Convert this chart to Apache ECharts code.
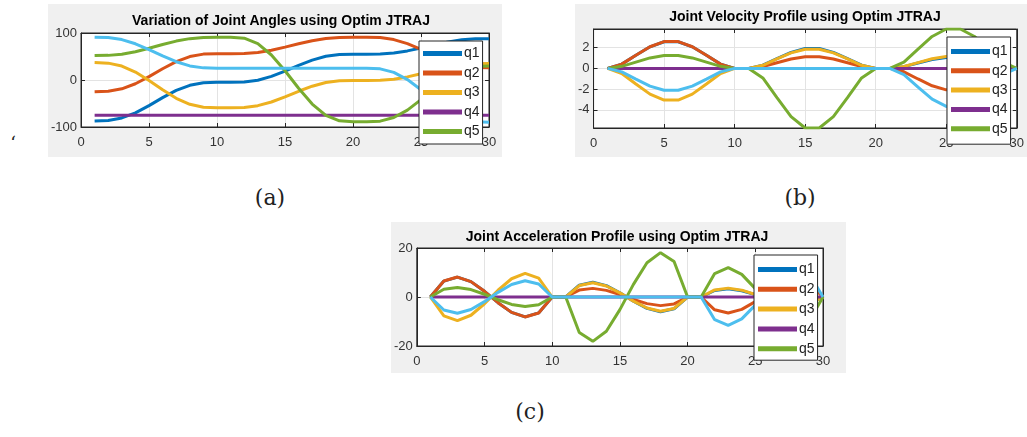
<!DOCTYPE html>
<html>
<head>
<meta charset="utf-8">
<script src="https://cdn.jsdelivr.net/npm/echarts@6/dist/echarts.min.js"></script>
<style>
body{margin:0;background:#fff;width:1027px;height:437px;position:relative;overflow:hidden;}
.panel{position:absolute;background:#f0f0f0;}
.cap{position:absolute;font-family:'DejaVu Serif','Liberation Serif',serif;font-size:22px;color:#222;transform:translate(-50%,-50%);white-space:nowrap;}
</style>
</head>
<body>
<div id="ca" class="panel" style="left:48px;top:4px;width:454px;height:153px"></div>
<div id="cb" class="panel" style="left:575px;top:4px;width:452px;height:153px"></div>
<div id="cc" class="panel" style="left:391px;top:222px;width:455px;height:151px"></div>
<div class="cap" style="left:270px;top:197px">(a)</div>
<div class="cap" style="left:800px;top:197px">(b)</div>
<div class="cap" style="left:530px;top:411px">(c)</div>
<div class="cap" style="left:13px;top:142px;font-size:18px">‘</div>
<script>
var xs = [1, 2, 3, 4, 5, 6, 7, 8, 9, 10, 11, 12, 13, 14, 15, 16, 17, 18, 19, 20, 21, 22, 23, 24, 25, 26, 27, 28, 29, 30];

// joint angles (deg)
var angQ1 = [-87, -86.1, -80.7, -69.8, -54.5, -37.5, -22.2, -11.3, -5.9, -5, -5, -4.3, -0.4, 7.6, 18.8, 31.2, 42.4, 50.4, 54.3, 55, 55, 55.4, 57.5, 61.9, 68.1, 74.9, 81.1, 85.5, 87.6, 88];
var angQ2 = [-25, -24.1, -18.8, -8.0, 7.1, 23.9, 39.0, 49.8, 55.1, 56, 56, 56.4, 58.7, 63.3, 69.9, 77.1, 83.6, 88.3, 90.6, 91, 91, 90.3, 86.0, 77.4, 65.2, 51.8, 39.6, 31.0, 26.7, 26];
var angQ3 = [37, 35.9, 29.7, 16.9, -1.1, -20.9, -38.9, -51.7, -57.9, -59, -59, -58.3, -54.6, -46.8, -36.0, -24.0, -13.2, -5.4, -1.7, -1, -1, -0.6, 1.8, 6.6, 13.3, 20.7, 27.4, 32.3, 34.6, 35];
var angQ4 = [-75, -75, -75, -75, -75, -75, -75, -75, -75, -75, -75, -75, -75, -75, -75, -75, -75, -75, -75, -75, -75, -75, -75, -75, -75, -75, -75, -75, -75, -75];
var angQ5 = [52, 52.4, 55.0, 60.2, 67.5, 75.5, 82.8, 88.0, 90.6, 91, 91, 88.9, 77.3, 53.2, 19.6, -17.6, -51.2, -75.3, -86.9, -89, -89, -87.6, -79.9, -64.0, -41.8, -17.2, 5.0, 20.9, 28.6, 30];
var angQ6 = [91, 90.2, 86.0, 77.1, 64.8, 51.2, 38.9, 30.0, 25.8, 25, 25, 25, 25, 25, 25, 25, 25, 25, 25, 25, 25, 23.7, 16.2, 0.9, -20.6, -44.4, -65.9, -81.2, -88.7, -90];

// joint velocities
var velQ1 = [0, 0.41, 1.26, 2.08, 2.57, 2.57, 2.08, 1.26, 0.41, 0, 0, 0.31, 0.94, 1.55, 1.92, 1.92, 1.55, 0.94, 0.31, 0, 0, 0.17, 0.52, 0.85, 1.05, 1.05, 0.85, 0.52, 0.17, 0];
var velQ2 = [0, 0.41, 1.27, 2.09, 2.59, 2.59, 2.09, 1.27, 0.41, 0, 0, 0.18, 0.55, 0.91, 1.12, 1.12, 0.91, 0.55, 0.18, 0, 0, -0.33, -1.02, -1.68, -2.07, -2.07, -1.68, -1.02, -0.33, 0];
var velQ3 = [0, -0.49, -1.50, -2.48, -3.06, -3.06, -2.48, -1.50, -0.49, 0, 0, 0.30, 0.91, 1.50, 1.85, 1.85, 1.50, 0.91, 0.30, 0, 0, 0.18, 0.56, 0.93, 1.15, 1.15, 0.93, 0.56, 0.18, 0];
var velQ4 = [0, 0, 0, 0, 0, 0, 0, 0, 0, 0, 0, 0, 0, 0, 0, 0, 0, 0, 0, 0, 0, 0, 0, 0, 0, 0, 0, 0, 0, 0];
var velQ5 = [0, 0.20, 0.61, 1.01, 1.24, 1.24, 1.01, 0.61, 0.20, 0, 0, -0.92, -2.82, -4.65, -5.75, -5.75, -4.65, -2.82, -0.92, 0, 0, 0.61, 1.86, 3.08, 3.80, 3.80, 3.08, 1.86, 0.61, 0];
var velQ6 = [0, -0.34, -1.03, -1.71, -2.11, -2.11, -1.71, -1.03, -0.34, 0, 0, 0, 0, 0, 0, 0, 0, 0, 0, 0, 0, -0.59, -1.80, -2.97, -3.67, -3.67, -2.97, -1.80, -0.59, 0];

// joint accelerations
var accQ1 = [0, 6.50, 8.12, 6.27, 2.32, -2.32, -6.27, -8.12, -6.50, 0, 0, 4.83, 6.03, 4.65, 1.72, -1.72, -4.65, -6.03, -4.83, 0, 0, 2.65, 3.32, 2.56, 0.95, -0.95, -2.56, -3.32, -2.65, 0];
var accQ2 = [0, 6.52, 8.14, 6.28, 2.33, -2.33, -6.28, -8.14, -6.52, 0, 0, 2.82, 3.52, 2.71, 1.01, -1.01, -2.71, -3.52, -2.82, 0, 0, -5.23, -6.54, -5.04, -1.87, 1.87, 5.04, 6.54, 5.23, 0];
var accQ3 = [0, -7.72, -9.65, -7.45, -2.76, 2.76, 7.45, 9.65, 7.72, 0, 0, 4.67, 5.83, 4.50, 1.67, -1.67, -4.50, -5.83, -4.67, 0, 0, 2.90, 3.62, 2.79, 1.03, -1.03, -2.79, -3.62, -2.90, 0];
var accQ4 = [0, 0, 0, 0, 0, 0, 0, 0, 0, 0, 0, 0, 0, 0, 0, 0, 0, 0, 0, 0, 0, 0, 0, 0, 0, 0, 0, 0, 0, 0];
var accQ5 = [0, 3.14, 3.92, 3.03, 1.12, -1.12, -3.03, -3.92, -3.14, 0, 0, -14.48, -18.10, -13.96, -5.17, 5.17, 13.96, 18.10, 14.48, 0, 0, 9.57, 11.97, 9.23, 3.42, -3.42, -9.23, -11.97, -9.57, 0];
var accQ6 = [0, -5.31, -6.64, -5.12, -1.90, 1.90, 5.12, 6.64, 5.31, 0, 0, 0, 0, 0, 0, 0, 0, 0, 0, 0, 0, -9.25, -11.56, -8.92, -3.30, 3.30, 8.92, 11.56, 9.25, 0];

var qNames = ['q1', 'q2', 'q3', 'q4', 'q5', 'q6'];
var qColors = ['#0072BD', '#D95319', '#EDB120', '#7E2F8E', '#77AC30', '#4DBEEE'];
var font = "'Liberation Sans Narrow','Liberation Sans',Arial,sans-serif";
var axisColor = '#262626';

function makeChart(id, cfg) {
    var chart = echarts.init(document.getElementById(id));
    var series = cfg.data.map(function (vals, i) {
        return {
            name: qNames[i],
            type: 'line',
            symbol: 'none',
            animation: false,
            lineStyle: {width: 3, color: qColors[i]},
            itemStyle: {color: qColors[i]},
            data: xs.map(function (x, k) { return [x, vals[k]]; })
        };
    });
    var xBase = {
        type: 'value', min: 0, max: 30, interval: 5,
        axisLine: {show: true, onZero: false, lineStyle: {color: axisColor}},
        axisTick: {show: true, inside: true, length: 4, lineStyle: {color: axisColor}}
    };
    var yBase = {
        type: 'value', min: cfg.yMin, max: cfg.yMax,
        axisLine: {show: true, onZero: false, lineStyle: {color: axisColor}},
        axisTick: {show: true, inside: true, length: 4, lineStyle: {color: axisColor}}
    };
    if (cfg.yInterval) yBase.interval = cfg.yInterval;
    chart.setOption({
        backgroundColor: '#f0f0f0',
        animation: false,
        title: {
            text: cfg.title,
            left: cfg.titleX,
            top: cfg.titleTop,
            textAlign: 'center',
            padding: 0,
            textStyle: {fontFamily: font, fontSize: 14, fontWeight: 'bold', color: '#000'}
        },
        grid: {
            left: cfg.grid[0], top: cfg.grid[1], right: cfg.grid[2], bottom: cfg.grid[3],
            show: true, backgroundColor: '#fff', borderColor: axisColor, borderWidth: 1
        },
        legend: {
            data: ['q1', 'q2', 'q3', 'q4', 'q5'],
            orient: 'vertical',
            left: cfg.legend[0],
            top: cfg.legend[1],
            itemGap: cfg.legend[2],
            padding: cfg.legend[3],
            icon: 'rect',
            itemWidth: 39,
            itemHeight: 5,
            backgroundColor: '#fff',
            borderColor: axisColor,
            borderWidth: 1,
            borderRadius: 0,
            selectedMode: false,
            textStyle: {fontFamily: font, fontSize: 14, lineHeight: 13, color: '#222', padding: [0, 0, 0, -3]}
        },
        xAxis: [
            Object.assign({}, xBase, {
                position: 'bottom',
                axisLabel: {margin: 9, fontFamily: font, fontSize: 13, color: '#333'},
                splitLine: {show: true, lineStyle: {color: '#e3e3e3'}}
            }),
            Object.assign({}, xBase, {
                position: 'top',
                axisLabel: {show: false},
                splitLine: {show: false}
            })
        ],
        yAxis: [
            Object.assign({}, yBase, {
                position: 'left',
                axisLabel: {margin: 4, fontFamily: font, fontSize: 13, color: '#333',
                    showMinLabel: cfg.showEnds, showMaxLabel: cfg.showEnds},
                splitLine: {show: true, lineStyle: {color: '#e3e3e3'}}
            }),
            Object.assign({}, yBase, {
                position: 'right',
                axisLabel: {show: false},
                splitLine: {show: false}
            })
        ],
        series: series
    });
    return chart;
}

makeChart('ca', {
    title: 'Variation of Joint Angles using Optim JTRAJ',
    titleX: 233, titleTop: 10,
    grid: [25, 29, 13, 30],
    legend: [371, 37, 5.5, [5.5, 3, 5.5, 4]],
    yMin: -100, yMax: 100, yInterval: 100, showEnds: true,
    data: [angQ1, angQ2, angQ3, angQ4, angQ5, angQ6]
});

makeChart('cb', {
    title: 'Joint Velocity Profile using Optim JTRAJ',
    titleX: 230, titleTop: 6,
    grid: [16, 25, 7, 29],
    legend: [372, 33, 5.3, [7.5, 3, 8.5, 4]],
    yMin: -5.75, yMax: 3.8, showEnds: false,
    data: [velQ1, velQ2, velQ3, velQ4, velQ5, velQ6]
});

makeChart('cc', {
    title: 'Joint Acceleration Profile using Optim JTRAJ',
    titleX: 226, titleTop: 8,
    grid: [21, 26, 23, 27],
    legend: [363, 33, 5.8, [7.5, 3, 4.5, 4]],
    yMin: -20, yMax: 20, yInterval: 20, showEnds: true,
    data: [accQ1, accQ2, accQ3, accQ4, accQ5, accQ6]
});
</script>
</body>
</html>
